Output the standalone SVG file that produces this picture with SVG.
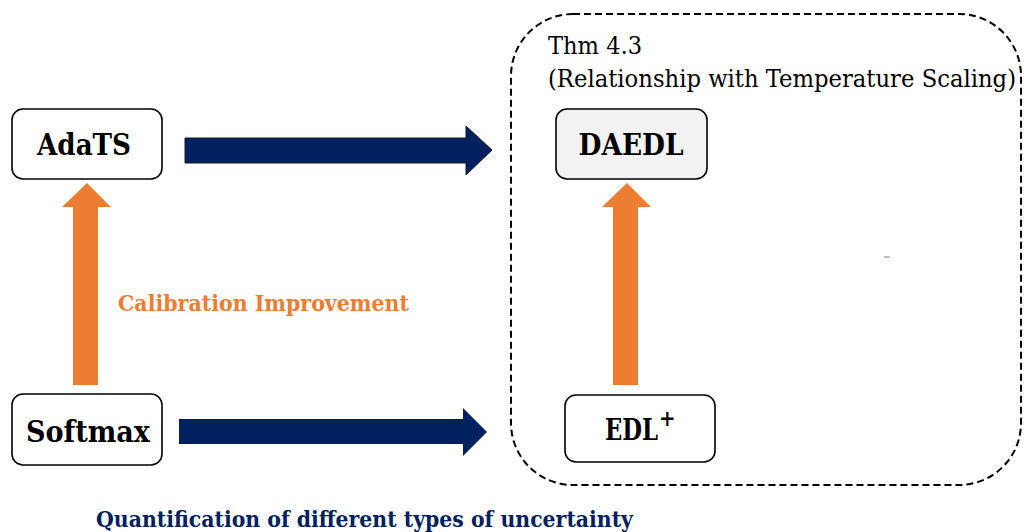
<svg xmlns="http://www.w3.org/2000/svg" width="1024" height="532" viewBox="0 0 1024 532">
  <style>
    .box { fill: #ffffff; stroke: #000000; stroke-width: 1.6; }
    .box.shaded { fill: #f2f2f2; }
    .serif { font-family: "DejaVu Serif Condensed", "DejaVu Serif", "Liberation Serif", serif; }
    .label { font-weight: bold; font-size: 29px; fill: #000000; text-anchor: middle; }
    .sup { font-weight: bold; font-size: 22px; fill: #000000; text-anchor: start; }
    .thm { font-size: 24px; fill: #000000; }
  </style>

  <rect width="1024" height="532" fill="#ffffff"/>

  <!-- theorem container -->
  <g id="thm-group">
    <rect x="511" y="14" width="510" height="471" rx="62" ry="62" fill="none" stroke="#000000" stroke-width="2" stroke-dasharray="7 4"/>
    <text class="serif thm" x="548" y="54" textLength="94" lengthAdjust="spacingAndGlyphs">Thm 4.3</text>
    <text class="serif thm" x="548" y="87" textLength="468" lengthAdjust="spacingAndGlyphs">(Relationship with Temperature Scaling)</text>
    <line x1="884" y1="257" x2="890" y2="257" stroke="#808080" stroke-width="1"/>
  </g>

  <!-- block arrows -->
  <g id="connectors">
    <polygon fill="#002060" stroke="#1a1a1a" stroke-width="1" points="185,138 466,138 466,126 492,150 466,175 466,163 185,163"/>
    <polygon fill="#002060" points="179,419 463,419 463,408 487,432 463,456 463,444 179,444"/>
    <polygon fill="#ed7d31" points="73,385 73,207 62,207 87,183 111,207 98,207 98,385"/>
    <polygon fill="#ed7d31" points="613,385 613,207 602,207 627,183 651,207 638,207 638,385"/>
  </g>

  <g id="node-adats">
    <rect class="box" x="12" y="109" width="150" height="70" rx="11"/>
    <text class="serif label" x="84" y="155" textLength="94" lengthAdjust="spacingAndGlyphs">AdaTS</text>
  </g>

  <g id="node-softmax">
    <rect class="box" x="12" y="394" width="150" height="71" rx="11"/>
    <text class="serif label" x="88" y="442" textLength="124" lengthAdjust="spacingAndGlyphs">Softmax</text>
  </g>

  <g id="node-daedl">
    <rect class="box shaded" x="556" y="109" width="151" height="70" rx="11"/>
    <text class="serif label" x="631" y="155" textLength="105" lengthAdjust="spacingAndGlyphs">DAEDL</text>
  </g>

  <g id="node-edl">
    <rect class="box" x="565" y="395" width="150" height="67" rx="11"/>
    <text class="serif label" x="631.5" y="440" textLength="53" lengthAdjust="spacingAndGlyphs">EDL</text>
    <text class="serif sup" x="659" y="426">+</text>
  </g>

  <text class="serif" x="118" y="311" font-weight="bold" font-size="22" fill="#ed7d31" textLength="291" lengthAdjust="spacingAndGlyphs">Calibration Improvement</text>
  <text class="serif" x="96" y="527" font-weight="bold" font-size="23" fill="#002060" textLength="537" lengthAdjust="spacingAndGlyphs">Quantification of different types of uncertainty</text>
</svg>
